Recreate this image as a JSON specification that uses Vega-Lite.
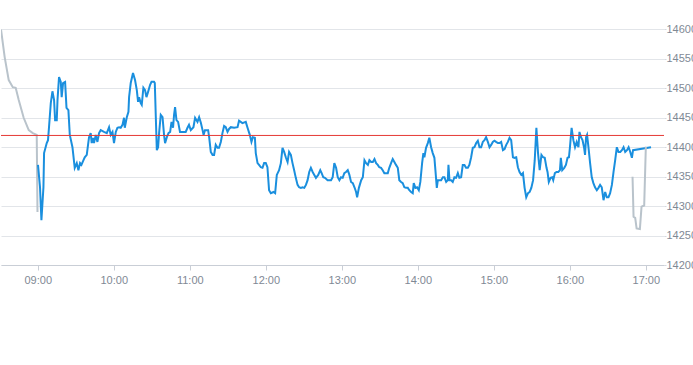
{
  "$schema": "https://vega.github.io/schema/vega-lite/v6.json",
  "width": 663,
  "height": 265,
  "padding": 0,
  "autosize": {"type": "pad"},
  "background": "white",
  "config": {
    "view": {"stroke": null},
    "font": "Liberation Sans"
  },
  "datasets": {
    "prices": [
      {"t":"08:31:00","v":14600,"s":"pre"},
      {"t":"08:33:54","v":14553,"s":"pre"},
      {"t":"08:37:06","v":14514,"s":"pre"},
      {"t":"08:40:18","v":14502,"s":"pre"},
      {"t":"08:42:36","v":14501,"s":"pre"},
      {"t":"08:45:00","v":14480,"s":"pre"},
      {"t":"08:48:54","v":14450,"s":"pre"},
      {"t":"08:52:54","v":14429,"s":"pre"},
      {"t":"08:56:06","v":14424,"s":"pre"},
      {"t":"08:59:12","v":14421,"s":"pre"},
      {"t":"08:59:48","v":14290,"s":"pre"},
      {"t":"09:00:12","v":14370,"s":"main"},
      {"t":"09:01:48","v":14332,"s":"main"},
      {"t":"09:02:54","v":14276,"s":"main"},
      {"t":"09:04:30","v":14332,"s":"main"},
      {"t":"09:05:00","v":14390,"s":"main"},
      {"t":"09:07:06","v":14407,"s":"main"},
      {"t":"09:08:06","v":14412,"s":"main"},
      {"t":"09:08:54","v":14434,"s":"main"},
      {"t":"09:10:18","v":14475,"s":"main"},
      {"t":"09:11:36","v":14495,"s":"main"},
      {"t":"09:12:54","v":14480,"s":"main"},
      {"t":"09:13:42","v":14446,"s":"main"},
      {"t":"09:15:00","v":14446,"s":"main"},
      {"t":"09:15:36","v":14480,"s":"main"},
      {"t":"09:16:48","v":14519,"s":"main"},
      {"t":"09:18:12","v":14511,"s":"main"},
      {"t":"09:18:54","v":14485,"s":"main"},
      {"t":"09:20:00","v":14509,"s":"main"},
      {"t":"09:21:36","v":14511,"s":"main"},
      {"t":"09:22:42","v":14467,"s":"main"},
      {"t":"09:24:12","v":14463,"s":"main"},
      {"t":"09:25:18","v":14421,"s":"main"},
      {"t":"09:27:24","v":14400,"s":"main"},
      {"t":"09:29:12","v":14365,"s":"main"},
      {"t":"09:30:48","v":14373,"s":"main"},
      {"t":"09:32:06","v":14361,"s":"main"},
      {"t":"09:33:24","v":14373,"s":"main"},
      {"t":"09:34:30","v":14370,"s":"main"},
      {"t":"09:36:06","v":14378,"s":"main"},
      {"t":"09:37:06","v":14383,"s":"main"},
      {"t":"09:38:42","v":14387,"s":"main"},
      {"t":"09:39:42","v":14404,"s":"main"},
      {"t":"09:40:30","v":14417,"s":"main"},
      {"t":"09:41:48","v":14424,"s":"main"},
      {"t":"09:42:36","v":14407,"s":"main"},
      {"t":"09:43:42","v":14416,"s":"main"},
      {"t":"09:44:24","v":14407,"s":"main"},
      {"t":"09:45:48","v":14421,"s":"main"},
      {"t":"09:47:06","v":14409,"s":"main"},
      {"t":"09:48:24","v":14424,"s":"main"},
      {"t":"09:49:42","v":14429,"s":"main"},
      {"t":"09:52:18","v":14426,"s":"main"},
      {"t":"09:54:30","v":14424,"s":"main"},
      {"t":"09:56:18","v":14434,"s":"main"},
      {"t":"09:57:36","v":14421,"s":"main"},
      {"t":"09:59:00","v":14426,"s":"main"},
      {"t":"10:00:12","v":14407,"s":"main"},
      {"t":"10:01:36","v":14426,"s":"main"},
      {"t":"10:02:54","v":14433,"s":"main"},
      {"t":"10:04:12","v":14434,"s":"main"},
      {"t":"10:05:30","v":14433,"s":"main"},
      {"t":"10:06:54","v":14438,"s":"main"},
      {"t":"10:08:06","v":14450,"s":"main"},
      {"t":"10:08:42","v":14433,"s":"main"},
      {"t":"10:10:18","v":14451,"s":"main"},
      {"t":"10:11:36","v":14460,"s":"main"},
      {"t":"10:12:06","v":14485,"s":"main"},
      {"t":"10:13:24","v":14509,"s":"main"},
      {"t":"10:15:12","v":14526,"s":"main"},
      {"t":"10:16:48","v":14514,"s":"main"},
      {"t":"10:18:12","v":14497,"s":"main"},
      {"t":"10:19:12","v":14477,"s":"main"},
      {"t":"10:20:00","v":14485,"s":"main"},
      {"t":"10:21:18","v":14475,"s":"main"},
      {"t":"10:22:06","v":14472,"s":"main"},
      {"t":"10:23:24","v":14501,"s":"main"},
      {"t":"10:24:42","v":14497,"s":"main"},
      {"t":"10:25:48","v":14485,"s":"main"},
      {"t":"10:27:06","v":14494,"s":"main"},
      {"t":"10:28:42","v":14506,"s":"main"},
      {"t":"10:29:48","v":14511,"s":"main"},
      {"t":"10:31:48","v":14511,"s":"main"},
      {"t":"10:32:24","v":14509,"s":"main"},
      {"t":"10:33:12","v":14451,"s":"main"},
      {"t":"10:34:00","v":14395,"s":"main"},
      {"t":"10:35:00","v":14400,"s":"main"},
      {"t":"10:35:48","v":14424,"s":"main"},
      {"t":"10:37:06","v":14455,"s":"main"},
      {"t":"10:38:30","v":14451,"s":"main"},
      {"t":"10:39:42","v":14421,"s":"main"},
      {"t":"10:40:30","v":14407,"s":"main"},
      {"t":"10:41:54","v":14417,"s":"main"},
      {"t":"10:43:12","v":14424,"s":"main"},
      {"t":"10:44:30","v":14426,"s":"main"},
      {"t":"10:45:36","v":14443,"s":"main"},
      {"t":"10:46:48","v":14433,"s":"main"},
      {"t":"10:47:36","v":14455,"s":"main"},
      {"t":"10:48:24","v":14468,"s":"main"},
      {"t":"10:49:30","v":14446,"s":"main"},
      {"t":"10:50:48","v":14443,"s":"main"},
      {"t":"10:52:18","v":14426,"s":"main"},
      {"t":"10:54:12","v":14426,"s":"main"},
      {"t":"10:56:48","v":14426,"s":"main"},
      {"t":"10:58:12","v":14433,"s":"main"},
      {"t":"10:59:24","v":14438,"s":"main"},
      {"t":"11:00:48","v":14429,"s":"main"},
      {"t":"11:02:54","v":14434,"s":"main"},
      {"t":"11:04:12","v":14450,"s":"main"},
      {"t":"11:06:06","v":14443,"s":"main"},
      {"t":"11:07:24","v":14451,"s":"main"},
      {"t":"11:08:48","v":14441,"s":"main"},
      {"t":"11:10:06","v":14429,"s":"main"},
      {"t":"11:10:54","v":14421,"s":"main"},
      {"t":"11:12:00","v":14429,"s":"main"},
      {"t":"11:13:30","v":14429,"s":"main"},
      {"t":"11:14:30","v":14429,"s":"main"},
      {"t":"11:15:18","v":14417,"s":"main"},
      {"t":"11:16:36","v":14392,"s":"main"},
      {"t":"11:18:00","v":14387,"s":"main"},
      {"t":"11:19:12","v":14387,"s":"main"},
      {"t":"11:20:30","v":14404,"s":"main"},
      {"t":"11:21:54","v":14399,"s":"main"},
      {"t":"11:23:06","v":14399,"s":"main"},
      {"t":"11:24:30","v":14409,"s":"main"},
      {"t":"11:25:48","v":14424,"s":"main"},
      {"t":"11:27:06","v":14436,"s":"main"},
      {"t":"11:28:24","v":14434,"s":"main"},
      {"t":"11:29:48","v":14426,"s":"main"},
      {"t":"11:31:00","v":14431,"s":"main"},
      {"t":"11:32:24","v":14434,"s":"main"},
      {"t":"11:35:00","v":14433,"s":"main"},
      {"t":"11:37:42","v":14434,"s":"main"},
      {"t":"11:38:54","v":14445,"s":"main"},
      {"t":"11:41:36","v":14441,"s":"main"},
      {"t":"11:44:12","v":14443,"s":"main"},
      {"t":"11:45:36","v":14433,"s":"main"},
      {"t":"11:47:24","v":14421,"s":"main"},
      {"t":"11:48:42","v":14409,"s":"main"},
      {"t":"11:49:48","v":14417,"s":"main"},
      {"t":"11:51:24","v":14416,"s":"main"},
      {"t":"11:52:06","v":14390,"s":"main"},
      {"t":"11:53:30","v":14373,"s":"main"},
      {"t":"11:54:42","v":14370,"s":"main"},
      {"t":"11:56:06","v":14366,"s":"main"},
      {"t":"11:57:24","v":14365,"s":"main"},
      {"t":"11:58:42","v":14373,"s":"main"},
      {"t":"12:00:00","v":14373,"s":"main"},
      {"t":"12:01:18","v":14366,"s":"main"},
      {"t":"12:02:36","v":14327,"s":"main"},
      {"t":"12:04:00","v":14322,"s":"main"},
      {"t":"12:06:06","v":14324,"s":"main"},
      {"t":"12:07:24","v":14322,"s":"main"},
      {"t":"12:08:42","v":14353,"s":"main"},
      {"t":"12:10:30","v":14361,"s":"main"},
      {"t":"12:11:54","v":14373,"s":"main"},
      {"t":"12:13:12","v":14399,"s":"main"},
      {"t":"12:14:30","v":14392,"s":"main"},
      {"t":"12:15:48","v":14383,"s":"main"},
      {"t":"12:17:12","v":14375,"s":"main"},
      {"t":"12:18:24","v":14392,"s":"main"},
      {"t":"12:19:48","v":14387,"s":"main"},
      {"t":"12:21:06","v":14373,"s":"main"},
      {"t":"12:22:24","v":14361,"s":"main"},
      {"t":"12:23:42","v":14348,"s":"main"},
      {"t":"12:25:06","v":14336,"s":"main"},
      {"t":"12:26:18","v":14332,"s":"main"},
      {"t":"12:27:42","v":14331,"s":"main"},
      {"t":"12:29:00","v":14332,"s":"main"},
      {"t":"12:30:24","v":14331,"s":"main"},
      {"t":"12:31:42","v":14336,"s":"main"},
      {"t":"12:33:00","v":14344,"s":"main"},
      {"t":"12:34:18","v":14358,"s":"main"},
      {"t":"12:35:36","v":14365,"s":"main"},
      {"t":"12:37:00","v":14358,"s":"main"},
      {"t":"12:38:18","v":14353,"s":"main"},
      {"t":"12:39:36","v":14348,"s":"main"},
      {"t":"12:41:24","v":14353,"s":"main"},
      {"t":"12:43:00","v":14361,"s":"main"},
      {"t":"12:44:06","v":14356,"s":"main"},
      {"t":"12:45:24","v":14349,"s":"main"},
      {"t":"12:46:42","v":14348,"s":"main"},
      {"t":"12:48:48","v":14344,"s":"main"},
      {"t":"12:51:30","v":14344,"s":"main"},
      {"t":"12:52:48","v":14349,"s":"main"},
      {"t":"12:54:06","v":14373,"s":"main"},
      {"t":"12:55:30","v":14365,"s":"main"},
      {"t":"12:56:48","v":14349,"s":"main"},
      {"t":"12:58:06","v":14344,"s":"main"},
      {"t":"12:59:24","v":14349,"s":"main"},
      {"t":"13:00:42","v":14348,"s":"main"},
      {"t":"13:02:00","v":14356,"s":"main"},
      {"t":"13:03:18","v":14358,"s":"main"},
      {"t":"13:04:42","v":14361,"s":"main"},
      {"t":"13:06:00","v":14353,"s":"main"},
      {"t":"13:07:18","v":14341,"s":"main"},
      {"t":"13:08:42","v":14339,"s":"main"},
      {"t":"13:10:00","v":14332,"s":"main"},
      {"t":"13:11:18","v":14324,"s":"main"},
      {"t":"13:12:06","v":14315,"s":"main"},
      {"t":"13:13:30","v":14331,"s":"main"},
      {"t":"13:15:18","v":14344,"s":"main"},
      {"t":"13:16:36","v":14349,"s":"main"},
      {"t":"13:17:54","v":14378,"s":"main"},
      {"t":"13:19:12","v":14373,"s":"main"},
      {"t":"13:20:36","v":14370,"s":"main"},
      {"t":"13:21:48","v":14378,"s":"main"},
      {"t":"13:23:12","v":14375,"s":"main"},
      {"t":"13:24:30","v":14375,"s":"main"},
      {"t":"13:25:48","v":14380,"s":"main"},
      {"t":"13:27:06","v":14373,"s":"main"},
      {"t":"13:28:24","v":14370,"s":"main"},
      {"t":"13:29:36","v":14366,"s":"main"},
      {"t":"13:31:00","v":14365,"s":"main"},
      {"t":"13:32:18","v":14361,"s":"main"},
      {"t":"13:33:36","v":14356,"s":"main"},
      {"t":"13:34:54","v":14356,"s":"main"},
      {"t":"13:36:18","v":14356,"s":"main"},
      {"t":"13:37:30","v":14365,"s":"main"},
      {"t":"13:38:54","v":14373,"s":"main"},
      {"t":"13:40:12","v":14380,"s":"main"},
      {"t":"13:41:30","v":14375,"s":"main"},
      {"t":"13:42:48","v":14370,"s":"main"},
      {"t":"13:44:12","v":14365,"s":"main"},
      {"t":"13:45:24","v":14344,"s":"main"},
      {"t":"13:46:48","v":14341,"s":"main"},
      {"t":"13:48:06","v":14339,"s":"main"},
      {"t":"13:49:24","v":14332,"s":"main"},
      {"t":"13:50:42","v":14331,"s":"main"},
      {"t":"13:52:06","v":14331,"s":"main"},
      {"t":"13:53:18","v":14327,"s":"main"},
      {"t":"13:54:42","v":14324,"s":"main"},
      {"t":"13:56:00","v":14322,"s":"main"},
      {"t":"13:56:48","v":14339,"s":"main"},
      {"t":"13:58:06","v":14331,"s":"main"},
      {"t":"13:59:24","v":14332,"s":"main"},
      {"t":"14:00:48","v":14327,"s":"main"},
      {"t":"14:02:00","v":14341,"s":"main"},
      {"t":"14:03:24","v":14373,"s":"main"},
      {"t":"14:04:24","v":14390,"s":"main"},
      {"t":"14:05:12","v":14383,"s":"main"},
      {"t":"14:06:30","v":14399,"s":"main"},
      {"t":"14:07:54","v":14407,"s":"main"},
      {"t":"14:09:06","v":14416,"s":"main"},
      {"t":"14:10:30","v":14400,"s":"main"},
      {"t":"14:11:48","v":14390,"s":"main"},
      {"t":"14:13:06","v":14382,"s":"main"},
      {"t":"14:13:54","v":14361,"s":"main"},
      {"t":"14:15:00","v":14331,"s":"main"},
      {"t":"14:15:48","v":14344,"s":"main"},
      {"t":"14:17:06","v":14344,"s":"main"},
      {"t":"14:18:24","v":14344,"s":"main"},
      {"t":"14:19:48","v":14349,"s":"main"},
      {"t":"14:21:00","v":14349,"s":"main"},
      {"t":"14:22:24","v":14341,"s":"main"},
      {"t":"14:23:42","v":14344,"s":"main"},
      {"t":"14:24:12","v":14370,"s":"main"},
      {"t":"14:25:00","v":14344,"s":"main"},
      {"t":"14:26:18","v":14344,"s":"main"},
      {"t":"14:27:36","v":14341,"s":"main"},
      {"t":"14:28:54","v":14349,"s":"main"},
      {"t":"14:30:12","v":14348,"s":"main"},
      {"t":"14:31:36","v":14356,"s":"main"},
      {"t":"14:32:48","v":14348,"s":"main"},
      {"t":"14:34:12","v":14349,"s":"main"},
      {"t":"14:35:30","v":14370,"s":"main"},
      {"t":"14:36:48","v":14370,"s":"main"},
      {"t":"14:38:06","v":14365,"s":"main"},
      {"t":"14:39:30","v":14365,"s":"main"},
      {"t":"14:40:42","v":14370,"s":"main"},
      {"t":"14:42:06","v":14383,"s":"main"},
      {"t":"14:43:24","v":14399,"s":"main"},
      {"t":"14:44:42","v":14400,"s":"main"},
      {"t":"14:46:06","v":14407,"s":"main"},
      {"t":"14:47:24","v":14411,"s":"main"},
      {"t":"14:48:42","v":14400,"s":"main"},
      {"t":"14:50:00","v":14400,"s":"main"},
      {"t":"14:51:18","v":14409,"s":"main"},
      {"t":"14:52:36","v":14412,"s":"main"},
      {"t":"14:53:54","v":14417,"s":"main"},
      {"t":"14:55:18","v":14409,"s":"main"},
      {"t":"14:56:36","v":14400,"s":"main"},
      {"t":"14:57:54","v":14404,"s":"main"},
      {"t":"14:59:12","v":14409,"s":"main"},
      {"t":"15:00:30","v":14411,"s":"main"},
      {"t":"15:01:48","v":14409,"s":"main"},
      {"t":"15:03:12","v":14407,"s":"main"},
      {"t":"15:04:30","v":14407,"s":"main"},
      {"t":"15:05:48","v":14409,"s":"main"},
      {"t":"15:07:12","v":14395,"s":"main"},
      {"t":"15:08:30","v":14397,"s":"main"},
      {"t":"15:09:48","v":14404,"s":"main"},
      {"t":"15:11:06","v":14409,"s":"main"},
      {"t":"15:12:24","v":14416,"s":"main"},
      {"t":"15:13:42","v":14412,"s":"main"},
      {"t":"15:15:06","v":14383,"s":"main"},
      {"t":"15:16:18","v":14382,"s":"main"},
      {"t":"15:17:42","v":14383,"s":"main"},
      {"t":"15:19:00","v":14366,"s":"main"},
      {"t":"15:20:18","v":14358,"s":"main"},
      {"t":"15:21:42","v":14353,"s":"main"},
      {"t":"15:23:00","v":14356,"s":"main"},
      {"t":"15:24:18","v":14331,"s":"main"},
      {"t":"15:25:36","v":14315,"s":"main"},
      {"t":"15:27:00","v":14322,"s":"main"},
      {"t":"15:28:18","v":14324,"s":"main"},
      {"t":"15:29:36","v":14331,"s":"main"},
      {"t":"15:31:00","v":14344,"s":"main"},
      {"t":"15:32:18","v":14378,"s":"main"},
      {"t":"15:33:36","v":14433,"s":"main"},
      {"t":"15:34:54","v":14390,"s":"main"},
      {"t":"15:36:12","v":14361,"s":"main"},
      {"t":"15:37:36","v":14387,"s":"main"},
      {"t":"15:38:54","v":14383,"s":"main"},
      {"t":"15:40:12","v":14382,"s":"main"},
      {"t":"15:41:36","v":14365,"s":"main"},
      {"t":"15:42:24","v":14358,"s":"main"},
      {"t":"15:43:24","v":14341,"s":"main"},
      {"t":"15:44:48","v":14348,"s":"main"},
      {"t":"15:46:06","v":14349,"s":"main"},
      {"t":"15:46:54","v":14344,"s":"main"},
      {"t":"15:48:12","v":14356,"s":"main"},
      {"t":"15:49:30","v":14358,"s":"main"},
      {"t":"15:50:54","v":14358,"s":"main"},
      {"t":"15:52:12","v":14361,"s":"main"},
      {"t":"15:52:54","v":14382,"s":"main"},
      {"t":"15:54:00","v":14361,"s":"main"},
      {"t":"15:55:36","v":14365,"s":"main"},
      {"t":"15:56:54","v":14370,"s":"main"},
      {"t":"15:58:12","v":14382,"s":"main"},
      {"t":"15:59:18","v":14383,"s":"main"},
      {"t":"16:00:06","v":14400,"s":"main"},
      {"t":"16:01:24","v":14433,"s":"main"},
      {"t":"16:02:48","v":14412,"s":"main"},
      {"t":"16:04:06","v":14400,"s":"main"},
      {"t":"16:05:24","v":14409,"s":"main"},
      {"t":"16:06:48","v":14400,"s":"main"},
      {"t":"16:07:36","v":14426,"s":"main"},
      {"t":"16:08:48","v":14417,"s":"main"},
      {"t":"16:10:00","v":14412,"s":"main"},
      {"t":"16:11:12","v":14400,"s":"main"},
      {"t":"16:12:00","v":14387,"s":"main"},
      {"t":"16:12:48","v":14417,"s":"main"},
      {"t":"16:13:36","v":14421,"s":"main"},
      {"t":"16:14:42","v":14400,"s":"main"},
      {"t":"16:16:00","v":14373,"s":"main"},
      {"t":"16:17:18","v":14349,"s":"main"},
      {"t":"16:18:36","v":14339,"s":"main"},
      {"t":"16:19:54","v":14332,"s":"main"},
      {"t":"16:21:18","v":14327,"s":"main"},
      {"t":"16:22:36","v":14331,"s":"main"},
      {"t":"16:23:54","v":14336,"s":"main"},
      {"t":"16:25:12","v":14332,"s":"main"},
      {"t":"16:26:36","v":14310,"s":"main"},
      {"t":"16:27:54","v":14324,"s":"main"},
      {"t":"16:29:12","v":14315,"s":"main"},
      {"t":"16:30:30","v":14315,"s":"main"},
      {"t":"16:31:48","v":14322,"s":"main"},
      {"t":"16:33:12","v":14336,"s":"main"},
      {"t":"16:34:30","v":14358,"s":"main"},
      {"t":"16:35:48","v":14378,"s":"main"},
      {"t":"16:37:06","v":14400,"s":"main"},
      {"t":"16:38:24","v":14392,"s":"main"},
      {"t":"16:39:48","v":14392,"s":"main"},
      {"t":"16:41:06","v":14395,"s":"main"},
      {"t":"16:42:24","v":14400,"s":"main"},
      {"t":"16:43:42","v":14392,"s":"main"},
      {"t":"16:45:06","v":14395,"s":"main"},
      {"t":"16:46:24","v":14400,"s":"main"},
      {"t":"16:47:42","v":14392,"s":"main"},
      {"t":"16:49:00","v":14382,"s":"main"},
      {"t":"16:49:54","v":14395,"s":"main"},
      {"t":"17:04:06","v":14400,"s":"main"},
      {"t":"16:49:30","v":14350,"s":"post"},
      {"t":"16:50:18","v":14282,"s":"post"},
      {"t":"16:51:36","v":14280,"s":"post"},
      {"t":"16:52:42","v":14262,"s":"post"},
      {"t":"16:55:18","v":14261,"s":"post"},
      {"t":"16:56:36","v":14299,"s":"post"},
      {"t":"16:58:42","v":14301,"s":"post"},
      {"t":"17:00:00","v":14401,"s":"post"}
    ],
    "reference": [{"v": 14420}]
  },
  "encoding": {
    "y": {
      "field": "v",
      "type": "quantitative",
      "scale": {"domain": [14200, 14650], "zero": false, "nice": false},
      "axis": {
        "orient": "right",
        "title": null,
        "values": [14200, 14250, 14300, 14350, 14400, 14450, 14500, 14550, 14600],
        "format": "d",
        "grid": true,
        "gridColor": "#e2e5e9",
        "gridWidth": 1,
        "domain": false,
        "ticks": true,
        "tickSize": 2,
        "tickColor": "#d5d9de",
        "labelPadding": 0,
        "labelFont": "Liberation Sans",
        "labelFontSize": 11,
        "labelColor": "#7f8995",
        "labelFlush": false,
        "labelOverlap": false
      }
    }
  },
  "layer": [
    {
      "data": {"name": "prices", "format": {"parse": {"t": "utc:'%H:%M:%S'"}}},
      "mark": {"type": "line", "strokeWidth": 2, "clip": true, "interpolate": "linear"},
      "encoding": {
        "x": {
          "field": "t",
          "type": "temporal",
          "scale": {
            "type": "utc",
            "domain": [
              {"year": 1900, "month": 1, "date": 1, "hours": 8, "minutes": 31, "utc": true},
              {"year": 1900, "month": 1, "date": 1, "hours": 17, "minutes": 14, "seconds": 20, "utc": true}
            ]
          },
          "axis": {
            "title": null,
            "values": [
              {"year": 1900, "month": 1, "date": 1, "hours": 9, "utc": true},
              {"year": 1900, "month": 1, "date": 1, "hours": 10, "utc": true},
              {"year": 1900, "month": 1, "date": 1, "hours": 11, "utc": true},
              {"year": 1900, "month": 1, "date": 1, "hours": 12, "utc": true},
              {"year": 1900, "month": 1, "date": 1, "hours": 13, "utc": true},
              {"year": 1900, "month": 1, "date": 1, "hours": 14, "utc": true},
              {"year": 1900, "month": 1, "date": 1, "hours": 15, "utc": true},
              {"year": 1900, "month": 1, "date": 1, "hours": 16, "utc": true},
              {"year": 1900, "month": 1, "date": 1, "hours": 17, "utc": true}
            ],
            "labelExpr": "utcFormat(datum.value, '%H:%M')",
            "grid": false,
            "domain": true,
            "domainColor": "#c9ced6",
            "domainWidth": 1,
            "ticks": true,
            "tickColor": "#c9ced6",
            "tickSize": 5,
            "labelPadding": 4,
            "labelFont": "Liberation Sans",
            "labelFontSize": 11,
            "labelColor": "#7f8995",
            "labelFlush": false,
            "labelOverlap": false
          }
        },
        "color": {
          "field": "s",
          "type": "nominal",
          "scale": {"domain": ["pre", "main", "post"], "range": ["#b9c3cb", "#1a8fde", "#b9c3cb"]},
          "legend": null
        }
      }
    },
    {
      "data": {"name": "reference"},
      "mark": {"type": "rule", "color": "#e53935", "strokeWidth": 1},
      "encoding": {}
    }
  ]
}
